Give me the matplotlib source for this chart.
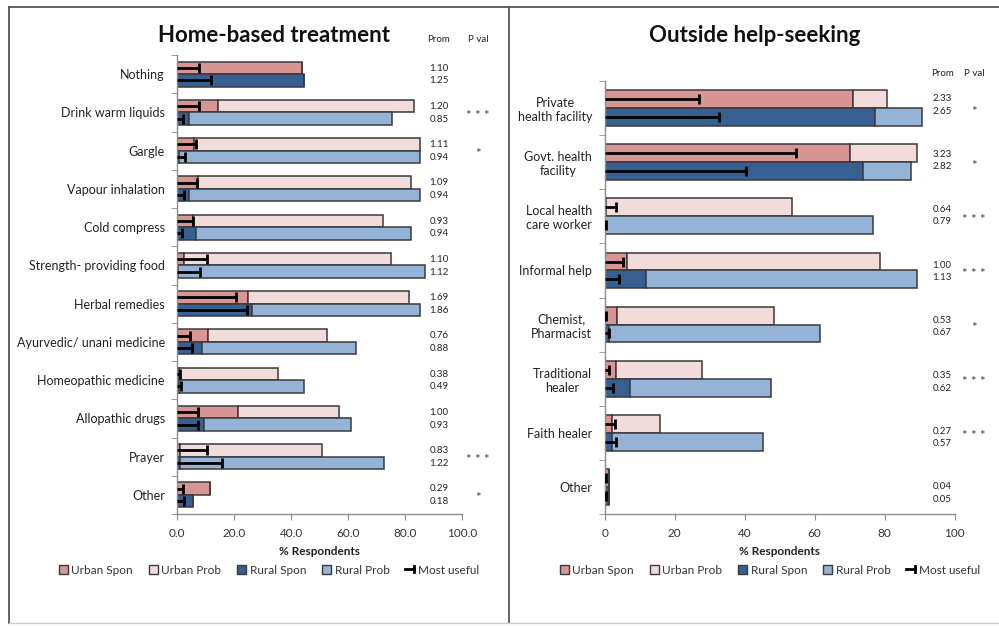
import numpy as np
import matplotlib
matplotlib.use("Agg")
import matplotlib.pyplot as plt
from matplotlib.patches import Patch
from matplotlib.lines import Line2D
from matplotlib.legend_handler import HandlerBase

plt.rcParams['font.family'] = ['Lato', 'DejaVu Sans']

# ---------------- Home-based treatment ----------------
home_categories = ["Nothing", "Drink warm liquids", "Gargle", "Vapour inhalation",
                   "Cold compress", "Strength- providing food", "Herbal remedies",
                   "Ayurvedic/ unani medicine", "Homeopathic medicine",
                   "Allopathic drugs", "Prayer", "Other"]
home_urban_spon = [43.7, 14.4, 6.0, 7.2, 5.6, 2.2, 24.7, 10.7, 0.5, 21.5, 0.8, 11.5]
home_urban_prob = [0.0, 68.7, 79.3, 74.9, 66.6, 72.8, 56.9, 41.8, 34.8, 35.5, 50.2, 0.0]
home_rural_spon = [44.7, 4.1, 0.5, 4.1, 6.5, 0.3, 26.4, 8.6, 0.5, 9.5, 0.8, 5.4]
home_rural_prob = [0.0, 71.3, 84.8, 81.2, 75.6, 86.8, 58.9, 54.2, 43.9, 51.5, 71.8, 0.0]
home_urban_useful = [7.6, 7.6, 6.7, 6.9, 5.4, 10.6, 20.5, 4.4, 0.8, 7.2, 10.3, 2.0]
home_rural_useful = [11.8, 2.0, 2.7, 2.5, 1.8, 8.1, 24.5, 5.3, 1.2, 7.4, 15.8, 2.5]
home_prom_urban = ["1.10", "1.20", "1.11", "1.09", "0.93", "1.10", "1.69", "0.76",
                   "0.38", "1.00", "0.83", "0.29"]
home_prom_rural = ["1.25", "0.85", "0.94", "0.94", "0.94", "1.12", "1.86", "0.88",
                   "0.49", "0.93", "1.22", "0.18"]
home_pval = ["", "***", "*", "", "", "", "", "", "", "", "***", "*"]
home_ticks = [0, 20, 40, 60, 80, 100]
home_ticklabels = ["0.0", "20.0", "40.0", "60.0", "80.0", "100.0"]

# ---------------- Outside help-seeking ----------------
help_categories = ["Private\nhealth facility", "Govt. health\nfacility",
                   "Local health\ncare worker", "Informal help", "Chemist,\nPharmacist",
                   "Traditional\nhealer", "Faith healer", "Other"]
help_urban_spon = [70.8, 70.2, 0.5, 6.3, 3.6, 3.2, 2.2, 1.3]
help_urban_prob = [9.8, 19.1, 53.1, 72.4, 44.8, 24.6, 13.6, 0.0]
help_rural_spon = [77.1, 73.8, 0.2, 11.7, 1.3, 7.2, 2.2, 1.3]
help_rural_prob = [13.6, 13.7, 76.4, 77.4, 60.3, 40.3, 43.1, 0.0]
help_urban_useful = [26.9, 54.6, 3.2, 5.2, 0.5, 1.3, 3.0, 0.5]
help_rural_useful = [32.7, 40.3, 0.5, 4.1, 1.3, 2.3, 3.2, 0.5]
help_prom_urban = ["2.33", "3.23", "0.64", "1.00", "0.53", "0.35", "0.27", "0.04"]
help_prom_rural = ["2.65", "2.82", "0.79", "1.13", "0.67", "0.62", "0.57", "0.05"]
help_pval = ["*", "*", "***", "***", "*", "***", "***", ""]
help_ticks = [0, 20, 40, 60, 80, 100]
help_ticklabels = ["0", "20", "40", "60", "80", "100"]

series_names = ["Urban Spon", "Urban Prob", "Rural Spon", "Rural Prob", "Most useful"]
C_URBAN_SPON = "#D99594"
C_URBAN_PROB = "#F2DCDB"
C_RURAL_SPON = "#366092"
C_RURAL_PROB = "#95B3D7"
EDGE = "#3A3A3A"
AXIS_GREY = "#8C8C8C"

W, H = 999, 626
fig = plt.figure(figsize=(W / 100, H / 100), dpi=100)


def fx(px):
    return px / W


def fy(py):
    return 1 - py / H


class CapLineHandler(HandlerBase):
    def create_artists(self, legend, orig_handle, xdescent, ydescent,
                       width, height, fontsize, trans):
        y = height / 2 - ydescent
        x0 = -xdescent
        x1 = -xdescent + width
        line = Line2D([x0, x1], [y, y], color="black", lw=2.0, transform=trans)
        cap = Line2D([x1, x1], [y - height * 0.35, y + height * 0.35],
                     color="black", lw=2.0, transform=trans)
        return [line, cap]


def draw_panel(rect, cats, us, up, rs, rp, uu, ru, ticks, ticklabels,
               prom_u, prom_r, pvals, prom_x, pval_x, header_y, label_rows,
               label_off, title, title_xy, legend_x):
    ax = fig.add_axes(rect)
    n = len(cats)
    y = np.arange(n)
    bh = 0.33
    yu = y - bh / 2
    yr = y + bh / 2
    us = np.array(us); up = np.array(up); rs = np.array(rs); rp = np.array(rp)
    ax.barh(yu, us, height=bh, color=C_URBAN_SPON, edgecolor=EDGE, lw=1.1, zorder=2)
    ax.barh(yu, up, left=us, height=bh, color=C_URBAN_PROB, edgecolor=EDGE, lw=1.1, zorder=2)
    ax.barh(yr, rs, height=bh, color=C_RURAL_SPON, edgecolor=EDGE, lw=1.1, zorder=2)
    ax.barh(yr, rp, left=rs, height=bh, color=C_RURAL_PROB, edgecolor=EDGE, lw=1.1, zorder=2)

    # "Most useful" markers: line from zero with an end cap
    for yy, vals in ((yu, uu), (yr, ru)):
        ax.hlines(yy, 0, vals, color="black", lw=2.0, zorder=3)
        ax.plot(vals, yy, linestyle="none", marker="|", ms=6.5, mew=2.0,
                color="black", zorder=3)

    ax.set_xlim(0, 100)
    ax.set_ylim(n - 0.5, -0.5)
    ax.set_yticks(y)
    ax.set_yticklabels(cats, fontsize=9, color="#222222", ha="right",
                       multialignment="center")
    ax.set_yticks(np.arange(n + 1) - 0.5, minor=True)
    ax.tick_params(axis="y", which="major", length=0, pad=9)
    ax.tick_params(axis="y", which="minor", length=4, color=AXIS_GREY, direction="out")
    ax.set_xticks(ticks)
    ax.set_xticklabels(ticklabels, fontsize=8.5, color="#333333")
    ax.tick_params(axis="x", length=4, color=AXIS_GREY, direction="out", pad=6)
    for s in ("top", "right"):
        ax.spines[s].set_visible(False)
    for s in ("left", "bottom"):
        ax.spines[s].set_color(AXIS_GREY)
        ax.spines[s].set_linewidth(1.0)
    ax.set_xlabel("% Respondents", fontsize=8.5, fontweight="bold", labelpad=5,
                  color="#222222")

    # Prominence values and significance column
    ax.text(prom_x, header_y, "Prom", fontsize=7, ha="center", va="center",
            color="#222222", clip_on=False)
    ax.text(pval_x, header_y, "P val", fontsize=7, ha="center", va="center",
            color="#222222", clip_on=False)
    for i in range(n):
        ax.text(prom_x, label_rows[i] - label_off, prom_u[i], fontsize=7,
                ha="center", va="center", color="#222222", clip_on=False)
        ax.text(prom_x, label_rows[i] + label_off, prom_r[i], fontsize=7,
                ha="center", va="center", color="#222222", clip_on=False)
        if pvals[i]:
            stars = " ".join(pvals[i])
            ax.annotate(stars, (pval_x, y[i]), xytext=(0, -2.5),
                        textcoords="offset points", fontsize=9.5,
                        ha="center", va="center", color="#444444",
                        annotation_clip=False)

    fig.text(fx(title_xy[0]), fy(title_xy[1]), title, fontsize=16,
             fontweight="bold", ha="center", va="center", color="#111111")

    handles = [Patch(facecolor=C_URBAN_SPON, edgecolor=EDGE, lw=1.0),
               Patch(facecolor=C_URBAN_PROB, edgecolor=EDGE, lw=1.0),
               Patch(facecolor=C_RURAL_SPON, edgecolor=EDGE, lw=1.0),
               Patch(facecolor=C_RURAL_PROB, edgecolor=EDGE, lw=1.0)]
    useful = Line2D([0], [0], color="black")
    handles.append(useful)
    ax.legend(handles, series_names, loc="center",
              bbox_to_anchor=(fx(legend_x), fy(570)), bbox_transform=fig.transFigure,
              ncol=5, frameon=False, fontsize=8.5, handlelength=0.75,
              handleheight=0.75, handletextpad=0.3, columnspacing=1.35,
              labelcolor="#333333",
              handler_map={useful: CapLineHandler()})
    return ax


# left panel
lx0, lx1, ly0, ly1 = 177.3, 461.7, 55.0, 514.0
n_home = len(home_categories)
draw_panel([fx(lx0), fy(ly1), fx(lx1) - fx(lx0), fy(ly0) - fy(ly1)],
           home_categories, home_urban_spon, home_urban_prob, home_rural_spon,
           home_rural_prob, home_urban_useful, home_rural_useful,
           home_ticks, home_ticklabels, home_prom_urban, home_prom_rural, home_pval,
           prom_x=92.0, pval_x=105.7, header_y=-0.9,
           label_rows=np.arange(n_home) + 0.01, label_off=0.165,
           title="Home-based treatment", title_xy=(274, 35), legend_x=269)

# right panel
rx0, rx1, ry0, ry1 = 604.7, 954.7, 81.0, 514.0
n_help = len(help_categories)
draw_panel([fx(rx0), fy(ry1), fx(rx1) - fx(rx0), fy(ry0) - fy(ry1)],
           help_categories, help_urban_spon, help_urban_prob, help_rural_spon,
           help_rural_prob, help_urban_useful, help_rural_useful,
           help_ticks, help_ticklabels, help_prom_urban, help_prom_rural, help_pval,
           prom_x=96.4, pval_x=105.5, header_y=-0.63,
           label_rows=np.arange(n_help) * 1.025 - 0.06, label_off=0.115,
           title="Outside help-seeking", title_xy=(755, 35), legend_x=770)

# panel frames
frame_kw = dict(color="#555555", lw=1.3, transform=fig.transFigure)
fig.add_artist(Line2D([fx(8.5), 1.0], [fy(7), fy(7)], **frame_kw))
fig.add_artist(Line2D([fx(8.5), fx(8.5)], [fy(7), fy(623)], **frame_kw))
fig.add_artist(Line2D([fx(508.5), fx(508.5)], [fy(7), fy(623)], **frame_kw))
fig.add_artist(Line2D([fx(8.5), 1.0], [fy(623), fy(623)], color="#cccccc", lw=1.0,
                      transform=fig.transFigure))

fig.savefig("out.png", dpi=100, facecolor="white")
